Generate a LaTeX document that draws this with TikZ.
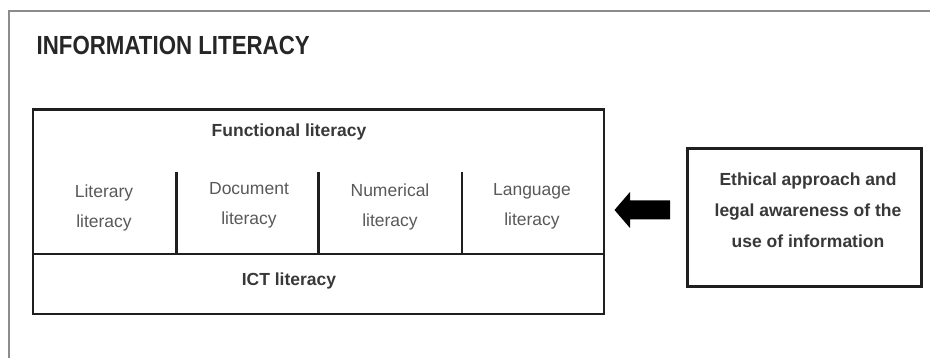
\documentclass[tikz,border=0pt]{standalone}
\usepackage{fontspec}
\setmainfont{Liberation Sans}
\begin{document}
\begin{tikzpicture}[x=1pt,y=-1pt,
  frameline/.style={draw=black!45,line width=2pt},
  boxline/.style={draw=black!88,line width=2.6pt,line join=miter},
  divider/.style={draw=black!88,line width=2.6pt},
  plaintext/.style={text=black!65,font=\fontsize{17.5}{30}\selectfont,align=center,inner sep=0pt},
  boldtext/.style={text=black!78,font=\fontsize{17.5}{31}\selectfont\bfseries,align=center,inner sep=0pt},
  arrowfill/.style={fill=black,draw=none}]
  \useasboundingbox (0,0) rectangle (930,358);
  % open page frame
  \draw[frameline] (9,360) -- (9,11.5) -- (932,11.5);
  % title
  \node[anchor=south west,inner sep=0pt,text=black!85] (title) at (36.5,54.5)
    {\resizebox{273pt}{18.3pt}{\bfseries INFORMATION LITERACY}};
  % main box and its parts
  \coordinate (mtl) at (33,109.5);
  \coordinate (mbr) at (604,314);
  \draw[boxline] (mtl) rectangle (mbr);
  \coordinate (hl) at (33,254);
  \coordinate (hr) at (604,254);
  \draw[divider] (hl) -- (hr);
  \foreach \n/\x in {d1/176.5,d2/318.5,d3/462}{
    \coordinate (\n top) at (\x,172);
    \coordinate (\n bot) at (\x,254);
    \draw[divider] (\n top) -- (\n bot);
  }
  \node[boldtext] (functional) at (289,132) {Functional literacy};
  \node[plaintext] (literary) at (104,208) {Literary\\literacy};
  \node[plaintext] (document) at (249,205) {Document\\literacy};
  \node[plaintext] (numerical) at (390,207) {Numerical\\literacy};
  \node[plaintext] (language) at (532,206) {Language\\literacy};
  \node[boldtext] (ict) at (289,281) {ICT literacy};
  % ethics box
  \node[boxline,minimum width=234pt,minimum height=137.5pt,inner sep=0pt,anchor=north west] (ethics) at (686,147.5) {};
  \node[boldtext] (ethicstext) at (808,210) {Ethical approach and\\legal awareness of the\\use of information};
  % block arrow pointing at the main box
  \fill[arrowfill] (670,200.5) -- (630,200.5) -- (630,192) -- (614.5,210)
    -- (630,228) -- (630,219.5) -- (670,219.5) -- cycle;
\end{tikzpicture}
\end{document}
